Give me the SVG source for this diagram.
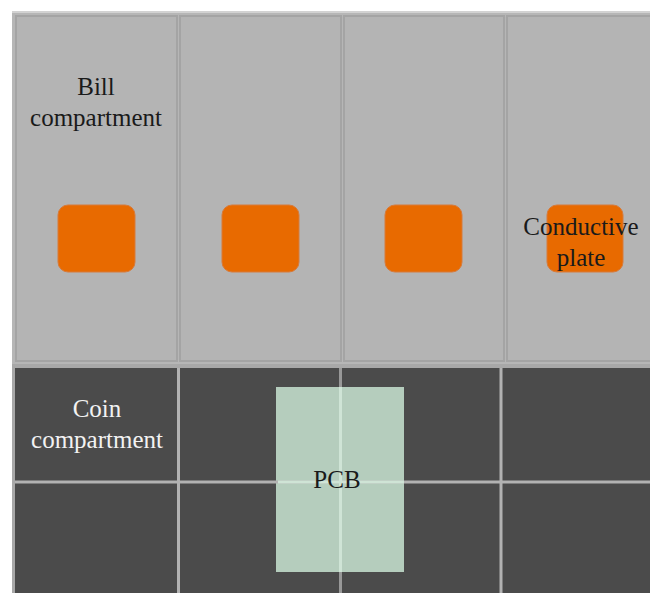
<svg xmlns="http://www.w3.org/2000/svg" width="650" height="593" viewBox="0 0 650 593">
<style>
.cell{fill:#b4b4b4;stroke:#a4a4a4;stroke-width:2}
.plate{fill:#e86a00;stroke:#d77a3a;stroke-width:1}
.grid{stroke:#b2b2b2;stroke-width:3}
.lbl{font-family:"Liberation Serif","Times New Roman",serif;font-size:25px;text-anchor:middle}
</style>
<rect x="0" y="0" width="650" height="593" fill="#ffffff"/>
<g id="bill-section">
<rect x="12" y="11" width="638" height="357" fill="#b6b6b6"/>
<line x1="12" y1="12" x2="650" y2="12" stroke="#d2d2d2" stroke-width="2"/>
<rect class="cell" x="16" y="16" width="161" height="345"/>
<rect class="cell" x="180" y="16" width="161" height="345"/>
<rect class="cell" x="344" y="16" width="160" height="345"/>
<rect class="cell" x="507" y="16" width="146" height="345"/>
</g>
<g id="bill-compartment-label">
<text class="lbl" x="96" y="95" fill="#1a1a1a">Bill</text>
<text class="lbl" x="96" y="126" fill="#1a1a1a">compartment</text>
</g>
<g id="plate-1"><rect class="plate" x="58" y="205" width="77" height="67" rx="10"/></g>
<g id="plate-2"><rect class="plate" x="222" y="205" width="77" height="67" rx="10"/></g>
<g id="plate-3"><rect class="plate" x="385" y="205" width="77" height="67" rx="10"/></g>
<g id="plate-4"><rect class="plate" x="547" y="205" width="76" height="67" rx="10"/></g>
<g id="conductive-plate-label">
<text class="lbl" x="581" y="235" fill="#1a1a1a">Conductive</text>
<text class="lbl" x="581" y="266" fill="#1a1a1a">plate</text>
</g>
<g id="coin-section">
<rect x="12" y="364" width="638" height="229" fill="#a8a8a8"/>
<rect x="15" y="368" width="635" height="225" fill="#4b4b4b"/>
</g>
<g id="pcb">
<rect x="276" y="387" width="128" height="185" fill="#b5cdbd"/>
</g>
<g id="connectors">
<line class="grid" x1="178.5" y1="368" x2="178.5" y2="593"/>
<line class="grid" x1="340.5" y1="368" x2="340.5" y2="593" stroke-opacity="0.75"/>
<line class="grid" x1="501" y1="368" x2="501" y2="593"/>
<line class="grid" x1="15" y1="482" x2="650" y2="482"/>
<line x1="278" y1="482" x2="404" y2="482" stroke="#cfe4d6" stroke-width="3"/>
<line x1="340.5" y1="387" x2="340.5" y2="572" stroke="#cfe4d6" stroke-width="3"/>
</g>
<g id="coin-compartment-label">
<text class="lbl" x="97" y="417" fill="#f2f2f2">Coin</text>
<text class="lbl" x="97" y="448" fill="#f2f2f2">compartment</text>
</g>
<g id="pcb-label">
<text class="lbl" x="337" y="488" fill="#1a1a1a">PCB</text>
</g>
</svg>
